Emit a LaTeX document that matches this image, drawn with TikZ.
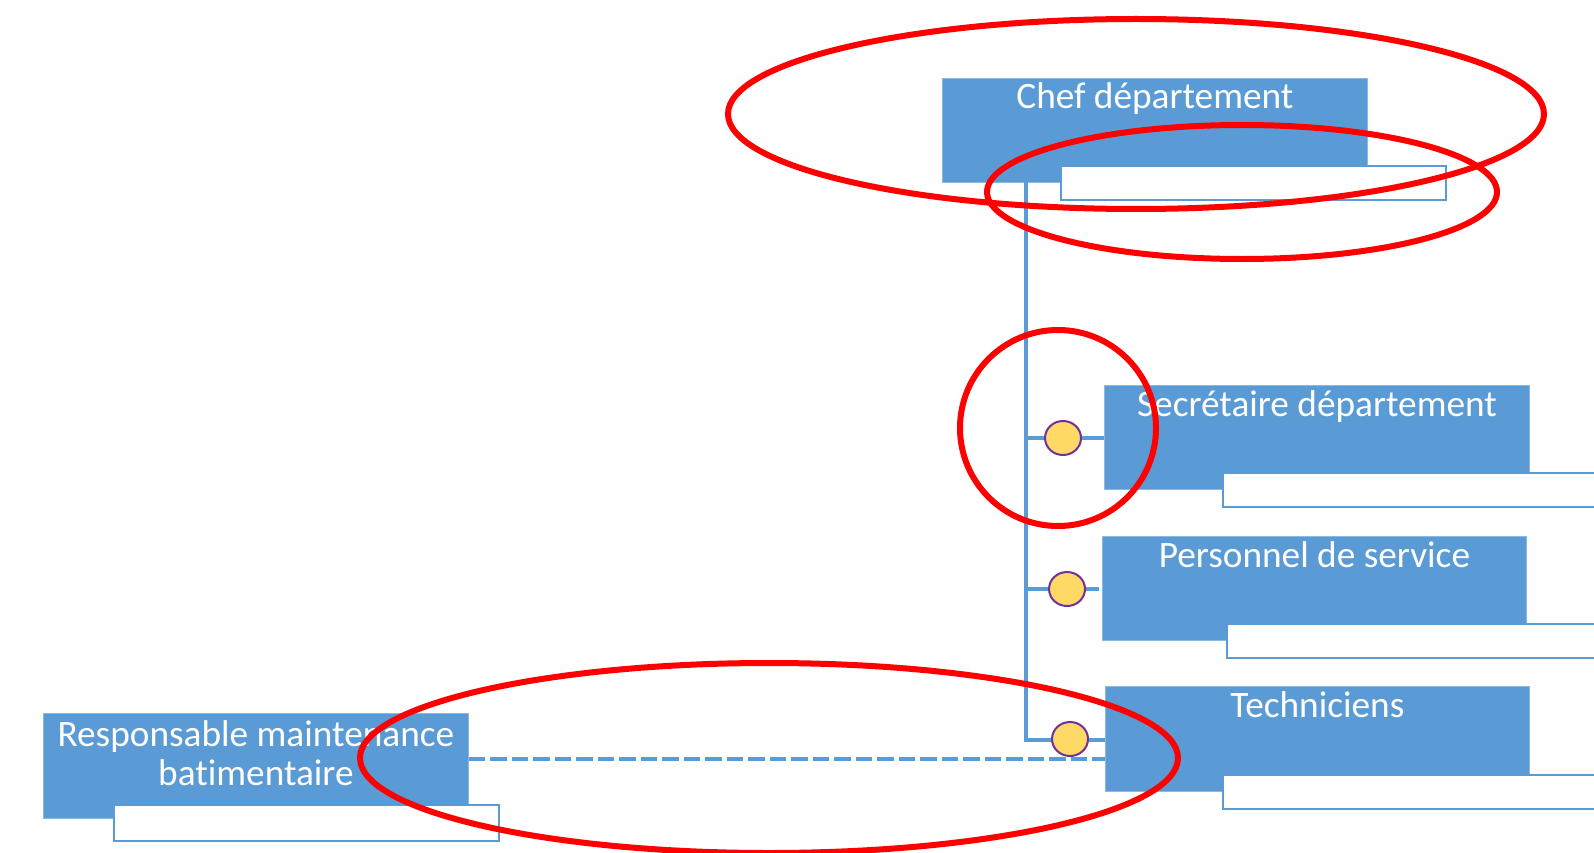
\documentclass[tikz,border=0pt]{standalone}
\usepackage{fontspec}
\setmainfont[Ligatures=NoCommon]{Carlito}
\usetikzlibrary{shapes.geometric}
\definecolor{obl}{HTML}{5B9BD5}
\definecolor{oyel}{HTML}{FFD966}
\definecolor{opur}{HTML}{7030A0}
\tikzset{
  bluebox/.style={rectangle, fill=obl, draw=obl!70!white, line width=0.8pt, inner sep=0pt, anchor=north west},
  whitebox/.style={rectangle, fill=white, draw=obl, line width=2pt, inner sep=0pt, anchor=north west},
  boxtext/.style={text=white, font=\fontsize{37.3}{39}\selectfont, align=center, inner sep=0pt, anchor=base},
  conn/.style={draw=obl, line width=4.5pt},
  dashconn/.style={draw=obl, line width=4pt, dash pattern=on 16.5pt off 5pt},
  dot/.style={ellipse, fill=oyel, draw=opur, line width=2pt, minimum width=36pt, minimum height=34pt, inner sep=0pt},
  redring/.style={ellipse, draw=red, line width=6pt, inner sep=0pt}
}
\begin{document}
\begin{tikzpicture}[x=1pt,y=-1pt]
\useasboundingbox (0,0) rectangle (1594,853);
\clip (0,0) rectangle (1594,853);
% boxes
\node[bluebox, minimum width=425pt, minimum height=104pt] (chef) at (942,78) {};
\node[bluebox, minimum width=425pt, minimum height=104pt] (sec) at (1104,385) {};
\node[bluebox, minimum width=424pt, minimum height=104pt] (pers) at (1102,536) {};
\node[bluebox, minimum width=424pt, minimum height=105pt] (tech) at (1105,686) {};
\node[bluebox, minimum width=425pt, minimum height=105pt] (resp) at (43,713) {};
% connectors
\coordinate (trunk) at (1026,182);
\coordinate (y1) at (0,438);
\coordinate (y2) at (0,589);
\coordinate (y3) at (0,740);
\coordinate (yd) at (0,759);
\draw[conn] (trunk) -- (trunk |- y3) -- (tech.west |- y3);
\draw[conn] (trunk |- y1) -- (sec.west |- y1);
\draw[conn] (trunk |- y2) -- ([xshift=-3pt]pers.west |- y2);
\draw[dashconn] (resp.east |- yd) -- (tech.west |- yd);
\node[dot] (d1) at (1063,438) {};
\node[dot] (d2) at (1067,589) {};
\node[dot] (d3) at (1070,739) {};
% white sub boxes
\node[whitebox, minimum width=385pt, minimum height=34pt] (chefw) at (1060,165) {};
\node[whitebox, minimum width=400pt, minimum height=34pt] (secw) at (1222,472) {};
\node[whitebox, minimum width=400pt, minimum height=34pt] (persw) at (1226,623) {};
\node[whitebox, minimum width=400pt, minimum height=34pt] (techw) at (1222,774) {};
\node[whitebox, minimum width=385pt, minimum height=36pt] (respw) at (113,804) {};
% texts
\node[boxtext] (chefT) at ([yshift=-31pt]chef.north) {Chef département};
\node[boxtext] (secT) at ([yshift=-31pt]sec.north) {Secrétaire département};
\node[boxtext] (persT) at ([yshift=-31pt]pers.north) {Personnel de service};
\node[boxtext] (techT) at ([yshift=-31pt]tech.north) {Techniciens};
\node[boxtext, anchor=north] (respT) at ([yshift=-7pt]resp.north) {Responsable maintenance\\batimentaire};
% red annotation rings
\node[redring, minimum width=816pt, minimum height=190pt] (e1) at (1136,114) {};
\node[redring, minimum width=510pt, minimum height=134pt] (e2) at (1242,192) {};
\node[redring, minimum width=196pt, minimum height=196pt] (e3) at (1058,428) {};
\node[redring, minimum width=818pt, minimum height=190pt] (e4) at (769,758) {};
\end{tikzpicture}
\end{document}
